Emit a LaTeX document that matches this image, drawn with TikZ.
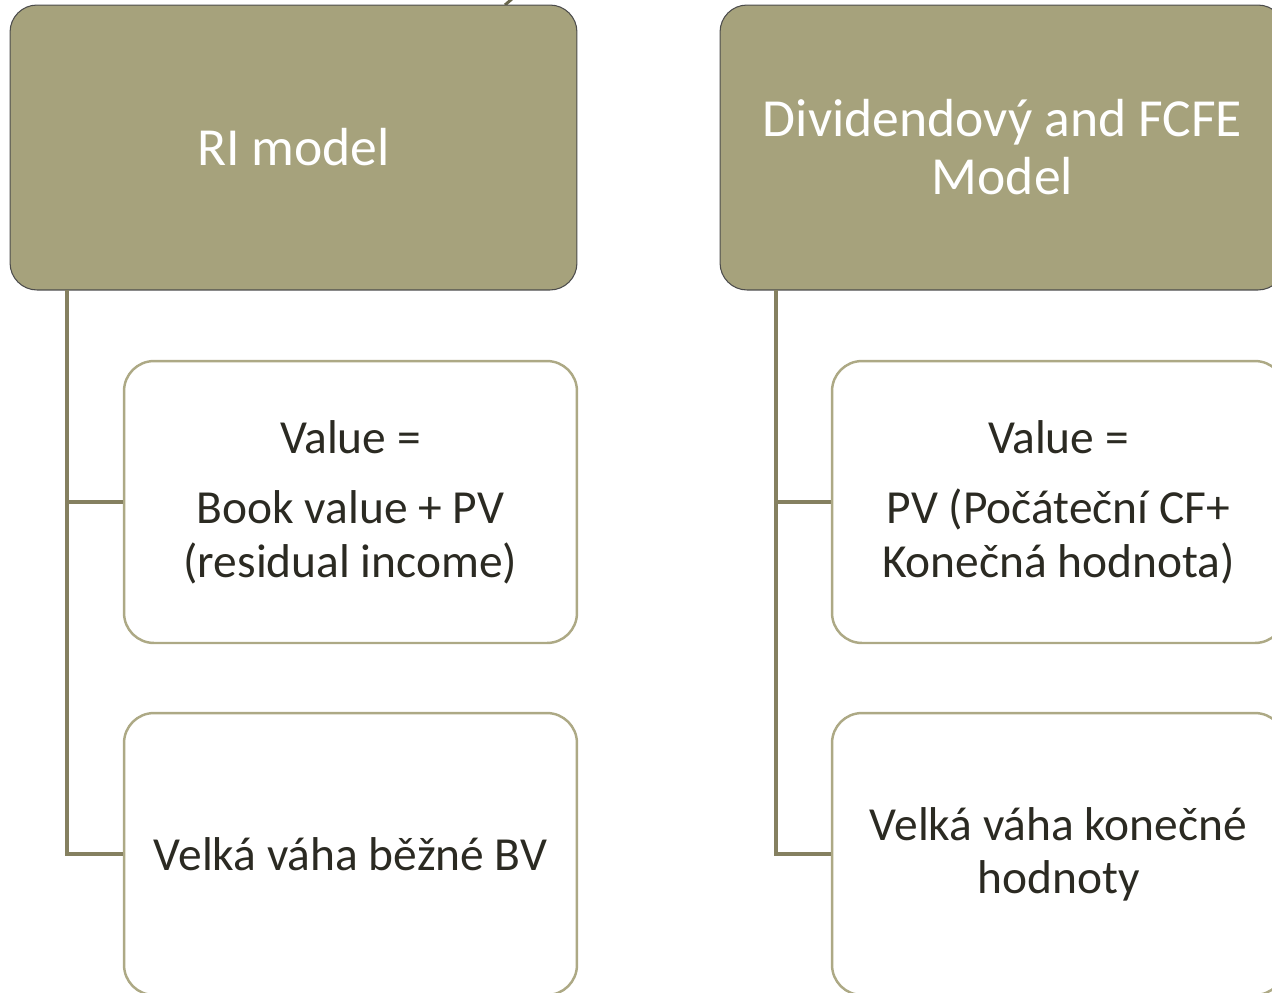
\documentclass[tikz,border=0pt]{standalone}
\usepackage{fontspec}
\setmainfont{Carlito}
\usetikzlibrary{calc}
\usepackage{xcolor}
\definecolor{olivefill}{HTML}{A6A27C}
\definecolor{oliveline}{HTML}{ADA985}
\definecolor{trunk}{HTML}{858060}
\definecolor{ink}{HTML}{2B2A22}

\tikzset{
  hdr/.style={draw=black!70, line width=.6pt, fill=olivefill, rounded corners=.54cm,
    minimum width=#1, minimum height=5.7cm, align=center, text=white,
    font=\fontsize{30.5}{33}\selectfont},
  child/.style={draw=oliveline, line width=1.4pt, fill=white, rounded corners=.6cm,
    minimum width=9.06cm, minimum height=5.64cm, align=center, text=ink,
    font=\fontsize{27}{30.3}\selectfont},
  link/.style={trunk, line width=2.8pt}
}

\begin{document}
\begin{tikzpicture}[x=0.02cm, y=-0.02cm]
\useasboundingbox (0,0) rectangle (1272,992);
% stray stub at the top
\draw[trunk!80!black, line width=1.7pt] (505,5) -- (513,-2);

% left column
\node[hdr=11.34cm] (ri) at (293.5,147.5) {RI model};
\node[child] (ri1) at (350.5,502) {Value =\\[10pt]Book value + PV\\(residual income)};
\node[child] (ri2) at (350.5,854) {Velká váha běžné BV};
\coordinate (riT) at (67,290);
\draw[link] (riT) |- (ri2.west);
\draw[link] (riT |- ri1.west) -- (ri1.west);

% right column
\node[hdr=11.3cm] (dd) at (1002.5,147.5) {Dividendový and FCFE\\Model};
\node[child] (dd1) at (1058.5,502) {Value =\\[10pt]PV (Počáteční CF+\\Konečná hodnota)};
\node[child] (dd2) at (1058.5,854) {Velká váha konečné\\hodnoty};
\coordinate (ddT) at (776,290);
\draw[link] (ddT) |- (dd2.west);
\draw[link] (ddT |- dd1.west) -- (dd1.west);
\end{tikzpicture}
\end{document}
